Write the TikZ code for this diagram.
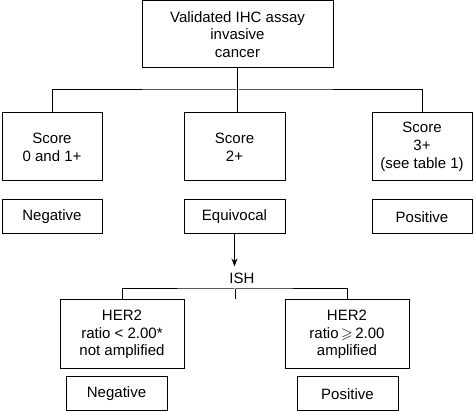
\documentclass[tikz,border=0pt]{standalone}
\usepackage{fontspec}
\usepackage{amssymb}
\setmainfont{Liberation Sans}
\usetikzlibrary{arrows.meta}
\begin{document}
\begin{tikzpicture}[x=1pt,y=-1pt,
  every node/.style={font=\fontsize{15}{17.7}\selectfont, align=center, inner sep=0pt},
  box/.style={draw, line width=1pt, minimum width=#1},
  box/.default=101pt,
  tall/.style={minimum height=68pt},
  short/.style={minimum height=34pt},
  conn/.style={line width=1pt},
]
\useasboundingbox (0,0) rectangle (474,411);
\node[box=191pt, minimum height=67pt] (top) at (237.5,34.5) {Validated IHC assay\\invasive\\cancer};
\node[box=100pt, tall] (sL) at (52,147) {Score\\0 and 1+};
\node[box, tall] (sM) at (234.5,147) {Score\\2+};
\node[box=100pt, tall] (sR) at (422,147) {Score\\3+\\(see table 1)};
\node[box=100pt, short] (rL) at (52,217) {Negative};
\node[box, short] (rM) at (234.5,217) {Equivocal};
\node[box=100pt, short] (rR) at (422,217) {Positive};
\node (ish) at (242,278) {ISH};
\node[box=124pt, minimum height=69pt] (hL) at (122,334.5) {HER2\\ratio < 2.00*\\not amplified};
\node[box=124pt, minimum height=69pt] (hR) at (347,334.5) {HER2\\ratio\,$\geqslant$\,2.00\\amplified};
\node[box, short] (nL) at (116.5,394) {Negative};
\node[box, short] (nR) at (347.5,394) {Positive};
\coordinate (bar1) at (237.5,90);
\coordinate (bar2) at (235,289);
\coordinate (tickEnd) at (235,299);
\draw[conn] (top.south) -- (top.south |- sM.north);
\draw[conn] (sL.north) |- (bar1) -| (sR.north);
\draw[conn] (rM.south) -- ++(0,32) coordinate (arrowTip);
\draw[conn, -{Stealth[length=8pt,width=6pt]}] (rM.south) -- (arrowTip);
\draw[conn] (hL.north) |- (bar2) -| (hR.north);
\draw[conn] (bar2) -- (tickEnd);
\end{tikzpicture}
\end{document}
